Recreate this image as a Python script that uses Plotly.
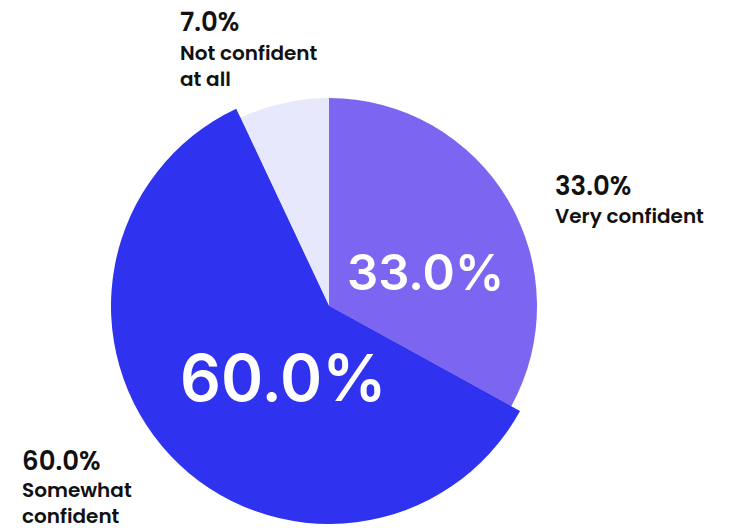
import plotly.graph_objects as go

# Survey responses: how confident respondents feel
categories = ["Very confident", "Somewhat confident", "Not confident at all"]
shares = [33.0, 60.0, 7.0]
colors = ["#7C66F1", "#2F32EF", "#E8E8FC"]
label_names = ["Very confident", "Somewhat<br>confident", "Not confident<br>at all"]

W, H = 730, 528


def px(x):
    return x / W


def py(y):
    return 1 - y / H


fig = go.Figure()

# Base pie: all slices at the regular radius
fig.add_trace(go.Pie(
    labels=categories,
    values=shares,
    sort=False,
    direction="clockwise",
    rotation=0,
    marker=dict(colors=colors, line=dict(width=0)),
    textinfo="none",
    hoverinfo="label+percent",
    showlegend=False,
    domain=dict(x=[px(121), px(537)], y=[py(514), py(98)]),
))

# Highlight: the largest slice drawn with a slightly larger radius
big = shares.index(max(shares))
overlay_colors = [c if i == big else "rgba(0,0,0,0)" for i, c in enumerate(colors)]
fig.add_trace(go.Pie(
    labels=categories,
    values=shares,
    sort=False,
    direction="clockwise",
    rotation=0,
    marker=dict(colors=overlay_colors, line=dict(width=0)),
    textinfo="none",
    hoverinfo="skip",
    showlegend=False,
    domain=dict(x=[px(111), px(547)], y=[py(524), py(88)]),
))

label_font = "Poppins, Inter, Lato, sans-serif"
pct_size = 26
name_size = 20

# Outside labels: (percentage anchor, name anchor) in pixels
outside = {
    0: ((553, 186), (553, 216)),
    1: ((20, 461), (20, 503)),
    2: ((178, 22), (178, 66)),
}
for i, ((xp, yp), (xn, yn)) in outside.items():
    fig.add_annotation(
        x=px(xp), y=py(yp), xref="paper", yref="paper",
        xanchor="left", yanchor="middle", showarrow=False,
        text=f"{shares[i]:.1f}%",
        font=dict(family=label_font, size=pct_size, color="#111111", weight=600),
    )
    fig.add_annotation(
        x=px(xn), y=py(yn), xref="paper", yref="paper",
        xanchor="left", yanchor="middle", showarrow=False, align="left",
        text=label_names[i],
        font=dict(family=label_font, size=name_size, color="#111111", weight=600),
    )

# Large values printed inside the two main slices
inside = {0: ((425, 272), 49), 1: ((283, 377), 64)}
for i, ((xc, yc), size) in inside.items():
    fig.add_annotation(
        x=px(xc), y=py(yc), xref="paper", yref="paper",
        xanchor="center", yanchor="middle", showarrow=False,
        text=f"{shares[i]:.1f}%",
        font=dict(family="Inter, Roboto, sans-serif", size=size, color="#FFFFFF", weight=600),
    )

fig.update_layout(
    width=W, height=H,
    margin=dict(l=0, r=0, t=0, b=0),
    paper_bgcolor="white",
    plot_bgcolor="white",
)

fig.write_html("out.html")
